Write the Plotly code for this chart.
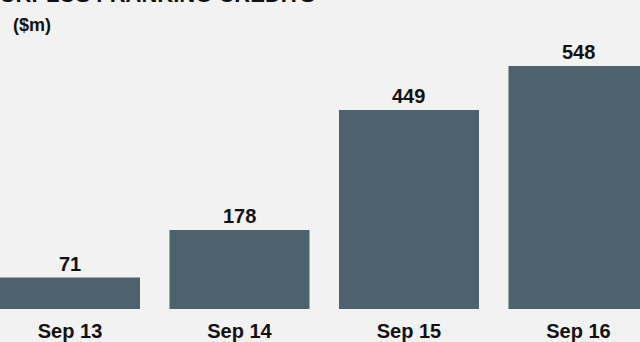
import plotly.graph_objects as go

categories = ["Sep 13", "Sep 14", "Sep 15", "Sep 16"]
values = [71, 178, 449, 548]
title_text = "SURPLUS FRANKING CREDITS"
unit_text = "($m)"

xpos = list(range(len(categories)))
bar_color = "#4d626d"
bg = "#f2f2f2"
font_family = "Liberation Sans, Arial, sans-serif"

fig = go.Figure()
fig.add_trace(go.Bar(
    x=xpos, y=values, width=0.826, marker=dict(color=bar_color, line=dict(width=0)),
    hoverinfo="skip",
))
for xi, v in zip(xpos, values):
    fig.add_annotation(x=xi, y=v, text=f"<b>{v}</b>", showarrow=False, yanchor="bottom",
                       yshift=1, font=dict(size=20, color="#111111", family=font_family))

fig.add_annotation(xref="paper", yref="paper", x=317/640, y=1.0, xanchor="right", yanchor="middle",
                   yshift=6, text=f"<b>{title_text}</b>", showarrow=False,
                   font=dict(size=22, color="#111111", family=font_family))
fig.add_annotation(xref="paper", yref="paper", x=11/640, y=1.0, xanchor="left", yanchor="middle",
                   yshift=-25, text=f"<b>{unit_text}</b>", showarrow=False,
                   font=dict(size=18, color="#111111", family=font_family))

fig.update_layout(
    width=640, height=342, margin=dict(l=0, r=0, t=0, b=33),
    paper_bgcolor=bg, plot_bgcolor=bg, showlegend=False,
    xaxis=dict(range=[-0.413, 3.363], tickmode="array", tickvals=xpos,
               ticktext=[f"<b>{c}</b>" for c in categories],
               showgrid=False, zeroline=False, showline=False, ticks="",
               ticklabelstandoff=8,
               tickfont=dict(size=20, color="#111111", family=font_family)),
    yaxis=dict(range=[0, 697], visible=False),
)
fig.write_html("out.html", config={"displayModeBar": False},
               post_script="document.body.style.margin='0';document.body.style.background='#f2f2f2';")
